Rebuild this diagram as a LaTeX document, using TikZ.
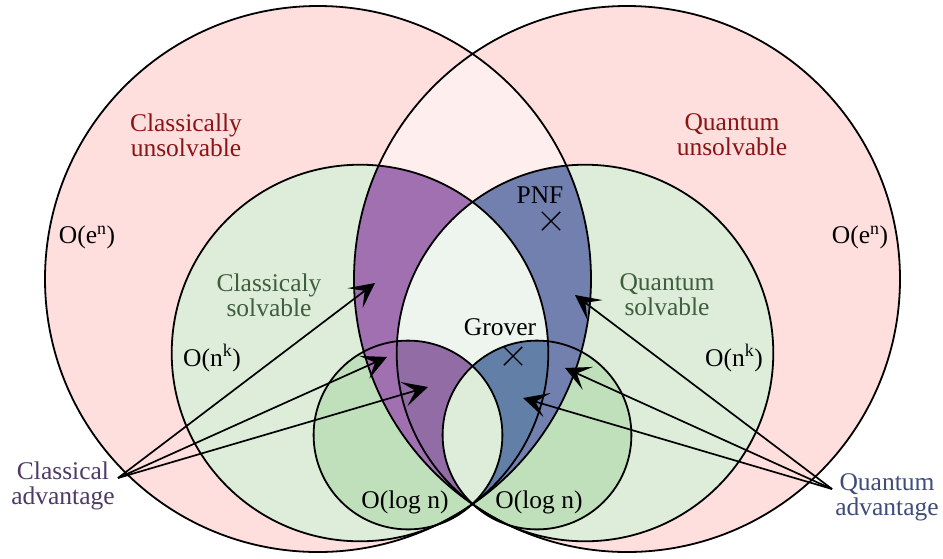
\documentclass[tikz,border=0pt]{standalone}
\usepackage{fontspec}
\setmainfont{Liberation Serif}
\usetikzlibrary{arrows.meta,shapes.misc}
\definecolor{pinkA}{HTML}{FFDEDE}
\definecolor{pinkB}{HTML}{FFEEEE}
\definecolor{greenA}{HTML}{DEEDDA}
\definecolor{greenB}{HTML}{EEF5EE}
\definecolor{greenC}{HTML}{C0E0BC}
\definecolor{purA}{HTML}{A170B0}
\definecolor{purB}{HTML}{916CA5}
\definecolor{bluA}{HTML}{7280B0}
\definecolor{bluB}{HTML}{627FA8}
\definecolor{redtxt}{HTML}{8B1414}
\definecolor{greentxt}{HTML}{3E5E3E}
\definecolor{purptxt}{HTML}{4E3A66}
\definecolor{bluetxt}{HTML}{3F4C7C}
\begin{document}
\begin{tikzpicture}[x=1pt,y=-1pt,
  lbl/.style={font=\fontsize{25.5}{25}\selectfont, align=center, inner sep=0pt},
  outline/.style={draw=black, line width=1.8pt},
  adv/.style={line width=1.7pt, -{Stealth[length=25pt,width=25pt,inset=12pt]}},
  xmark/.style={cross out, draw=black, line width=1.4pt, minimum size=17pt, inner sep=0pt}]
\useasboundingbox (0,0) rectangle (943,558);
\fill[white] (0,0) rectangle (943,558);
\def\cLB{(318,279) circle[radius=273pt]}
\def\cRB{(627,279) circle[radius=273pt]}
\def\cLG{(360,353) circle[radius=188.3pt]}
\def\cRG{(585,353) circle[radius=188.3pt]}
\def\cLS{(408,435) circle[radius=94.4pt]}
\def\cRS{(537,435) circle[radius=94.4pt]}
% big circles
\fill[pinkA] \cLB; \fill[pinkA] \cRB;
\begin{scope}\clip \cLB; \fill[pinkB] \cRB;\end{scope}
% medium circles
\fill[greenA] \cLG; \fill[greenA] \cRG;
\begin{scope}\clip \cLG; \fill[purA] \cRB;\end{scope}
\begin{scope}\clip \cRG; \fill[bluA] \cLB;\end{scope}
\begin{scope}\clip \cLG; \fill[greenB] \cRG;\end{scope}
% small circles
\fill[greenC] \cLS; \fill[greenC] \cRS;
\begin{scope}\clip \cLS; \fill[purA] \cRB;\end{scope}
\begin{scope}\clip \cRS; \fill[bluA] \cLB;\end{scope}
\begin{scope}\clip \cLS; \fill[purB] \cRG;\end{scope}
\begin{scope}\clip \cRS; \fill[bluB] \cLG;\end{scope}
\begin{scope}\clip \cLS; \fill[greenA] \cRS;\end{scope}
% outlines
\draw[outline] \cLB; \draw[outline] \cRB;
\draw[outline] \cLG; \draw[outline] \cRG;
\draw[outline] \cLS; \draw[outline] \cRS;
% labels
\node[lbl, text=redtxt] (cu) at (186,135) {Classically\\unsolvable};
\node[lbl, text=redtxt] (qu) at (732,135) {Quantum\\unsolvable};
\node[lbl] (le) at (87,237) {O(e\textsuperscript{n})};
\node[lbl] (re) at (860,237) {O(e\textsuperscript{n})};
\node[lbl, text=greentxt] (cs) at (269,295) {Classicaly\\solvable};
\node[lbl, text=greentxt] (qs) at (667,295) {Quantum\\solvable};
\node[lbl] (lk) at (212,358) {O(n\textsuperscript{k})};
\node[lbl] (rk) at (734,358) {O(n\textsuperscript{k})};
\node[lbl] (ll) at (405,502) {O(log n)};
\node[lbl] (rl) at (539,502) {O(log n)};
\node[lbl] (pnf) at (540,195) {PNF};
\node[lbl] (gro) at (500,327) {Grover};
\node[xmark] (px) at (551,221) {};
\node[xmark] (gx) at (513,356) {};
\node[lbl, text=purptxt] (ca) at (63,486) {Classical\\advantage};
\node[lbl, text=bluetxt] (qa) at (887,497) {Quantum\\advantage};
% arrows
\coordinate (cas) at (118,478);
\coordinate (ct1) at (375,283);
\coordinate (ct2) at (387,357);
\coordinate (ct3) at (428,387);
\coordinate (qas) at (832,489);
\coordinate (qt1) at (575,295);
\coordinate (qt2) at (565,368);
\coordinate (qt3) at (523,398);
\draw[adv] (cas) -- (ct1);
\draw[adv] (cas) -- (ct2);
\draw[adv] (cas) -- (ct3);
\draw[adv] (qas) -- (qt1);
\draw[adv] (qas) -- (qt2);
\draw[adv] (qas) -- (qt3);
\end{tikzpicture}
\end{document}
